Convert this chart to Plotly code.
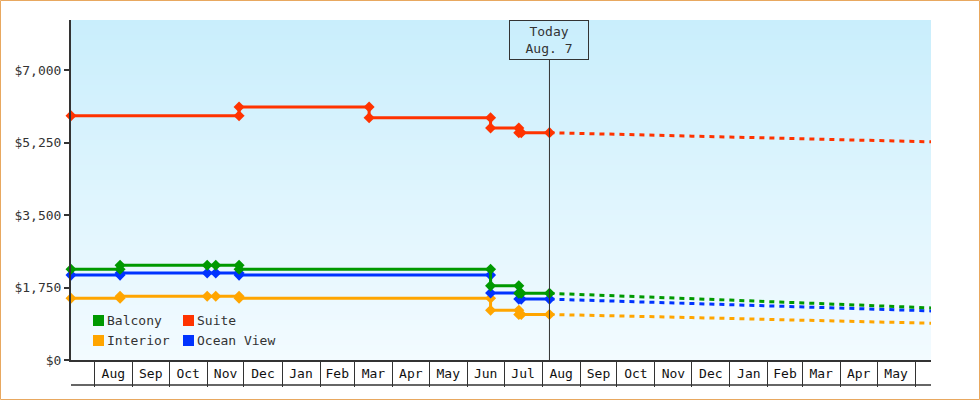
import pandas as pd
import plotly.graph_objects as go

# ---------------- data ----------------
series_names = ["Balcony", "Suite", "Interior", "Ocean View"]
series_colors = ["#009900", "#ff3300", "#ffa500", "#0033ff"]

balcony_dates = ["2024-07-13", "2024-08-22", "2024-11-01", "2024-11-08", "2024-11-27",
                 "2025-06-20", "2025-07-13", "2025-07-15", "2025-08-07"]
balcony_prices = [2190, 2290, 2290, 2290, 2190, 1790, 1610, 1610, 1610]

suite_dates = ["2024-07-13", "2024-11-27", "2025-03-13", "2025-06-20",
               "2025-07-13", "2025-07-15", "2025-08-07"]
suite_prices = [5900, 6110, 5850, 5600, 5490, 5490, 5490]

interior_dates = ["2024-07-13", "2024-08-22", "2024-11-01", "2024-11-08", "2024-11-27",
                  "2025-06-20", "2025-07-13", "2025-07-15", "2025-08-07"]
interior_prices = [1490, 1540, 1540, 1540, 1490, 1200, 1100, 1100, 1100]

ocean_dates = ["2024-07-13", "2024-08-22", "2024-11-01", "2024-11-08", "2024-11-27",
               "2025-06-20", "2025-07-13", "2025-07-15", "2025-08-07"]
ocean_prices = [2050, 2100, 2100, 2100, 2050, 1620, 1470, 1470, 1470]

forecast_dates = ["2025-08-07", "2025-09-01", "2025-10-01", "2025-11-01", "2025-12-01",
                  "2026-01-01", "2026-02-01", "2026-03-01", "2026-04-01", "2026-05-01",
                  "2026-06-01", "2026-06-14"]
balcony_forecast = [1610, 1585, 1551, 1515, 1481, 1447, 1411, 1379, 1343, 1309, 1273, 1258]
suite_forecast = [5490, 5468, 5446, 5424, 5405, 5384, 5362, 5343, 5321, 5300, 5278, 5268]
interior_forecast = [1100, 1089, 1067, 1045, 1024, 1002, 980, 961, 939, 917, 895, 888]
ocean_forecast = [1470, 1447, 1418, 1392, 1362, 1336, 1307, 1283, 1254, 1227, 1198, 1186]

today = "2025-08-07"
today_label = "Today<br>Aug. 7"
x_start = "2024-07-13"
x_end = "2026-06-14"
y_max = 8210
y_ticks = [0, 1750, 3500, 5250, 7000]
y_tick_text = ["$" + format(v, ",d") for v in y_ticks]

# ---------------- layout constants ----------------
W, H = 980, 400
ML, MR, MT, MB = 71, 49, 20, 40
PW, PH = W - ML - MR, H - MT - MB
FONT = "DejaVu Sans Mono"
AXIS = "#333333"


def step_points(dates, prices):
    xs, ys = [dates[0]], [prices[0]]
    for d, p in zip(dates[1:], prices[1:]):
        if p != ys[-1]:
            xs.append(d)
            ys.append(ys[-1])
        xs.append(d)
        ys.append(p)
    return xs, ys


history = {
    "Balcony": (balcony_dates, balcony_prices),
    "Suite": (suite_dates, suite_prices),
    "Interior": (interior_dates, interior_prices),
    "Ocean View": (ocean_dates, ocean_prices),
}
forecast = {
    "Balcony": balcony_forecast,
    "Suite": suite_forecast,
    "Interior": interior_forecast,
    "Ocean View": ocean_forecast,
}
color_of = dict(zip(series_names, series_colors))

fig = go.Figure()
draw_order = ["Interior", "Ocean View", "Balcony", "Suite"]
for name in draw_order:
    fig.add_trace(go.Scatter(
        x=forecast_dates, y=forecast[name], mode="lines",
        line=dict(color=color_of[name], width=3, dash="5px,5px"),
        showlegend=False, hoverinfo="skip"))
for name in draw_order:
    xs, ys = step_points(*history[name])
    fig.add_trace(go.Scatter(
        x=xs, y=ys, mode="lines+markers", name=name, cliponaxis=False,
        line=dict(color=color_of[name], width=3),
        marker=dict(symbol="diamond", size=8.5, color=color_of[name]),
        showlegend=False))

# month separators and centered month labels
month_starts = pd.date_range("2024-08-01", "2026-06-01", freq="MS")
month_mids = [m + (m + pd.offsets.MonthBegin(1) - m) / 2 for m in month_starts]
month_text = [m.strftime("%b") for m in month_starts]
label_pos = [mid for mid in month_mids if mid <= pd.Timestamp(x_end)]
label_txt = [t for mid, t in zip(month_mids, month_text) if mid <= pd.Timestamp(x_end)]

shapes = []
# gradient background
n_bands = 68
top_rgb = (0xC9, 0xEE, 0xFC)
bot_rgb = (0xF3, 0xFB, 0xFF)
for i in range(n_bands):
    t = (i + 0.5) / n_bands
    c = tuple(round(bot_rgb[k] + (top_rgb[k] - bot_rgb[k]) * t) for k in range(3))
    shapes.append(dict(type="rect", xref="paper", yref="paper",
                       x0=0, x1=1, y0=i / n_bands, y1=(i + 1) / n_bands,
                       fillcolor="rgb(%d,%d,%d)" % c, line=dict(width=0), layer="below"))
# bottom line of the month band
band = 25
shapes.append(dict(type="line", xref="paper", yref="paper", x0=0, x1=1,
                   y0=-band / PH, y1=-band / PH, line=dict(color=AXIS, width=1.5)))
# today line
box_h = 40
shapes.append(dict(type="line", xref="x", yref="paper", x0=today, x1=today,
                   y0=0, y1=1 - box_h / PH, line=dict(color=AXIS, width=1)))
# outer border
shapes.append(dict(type="rect", xref="paper", yref="paper",
                   x0=(0.5 - ML) / PW, x1=(W - 0.5 - ML) / PW,
                   y0=(PH + MT - (H - 0.5)) / PH, y1=(PH + MT - 0.5) / PH,
                   line=dict(color="#e8a860", width=1), fillcolor="rgba(0,0,0,0)"))

annotations = [dict(x=today, xref="x", y=1, yref="paper", yanchor="top", xanchor="center",
                    text=today_label, showarrow=False, width=78, height=38,
                    bordercolor=AXIS, borderwidth=1, borderpad=0,
                    font=dict(family=FONT, size=13, color=AXIS))]

# legend (two columns, row-major)
legend_cols_px = [93, 183]
legend_rows_px = [315, 335]
sq = 11
for idx, name in enumerate(series_names):
    col, row = idx % 2, idx // 2
    lx, ly = legend_cols_px[col], legend_rows_px[row]
    shapes.append(dict(type="rect", xref="paper", yref="paper",
                       x0=(lx - ML) / PW, x1=(lx + sq - ML) / PW,
                       y0=(PH + MT - (ly + sq)) / PH, y1=(PH + MT - ly) / PH,
                       fillcolor=color_of[name], line=dict(width=0)))
    annotations.append(dict(x=(lx + sq + 1 - ML) / PW, xref="paper",
                            y=(PH + MT - (ly + sq / 2)) / PH, yref="paper",
                            xanchor="left", yanchor="middle", showarrow=False,
                            text=name, font=dict(family=FONT, size=13, color=AXIS)))

fig.update_layout(
    width=W, height=H, autosize=False,
    margin=dict(l=ML, r=MR, t=MT, b=MB, pad=0),
    paper_bgcolor="white", plot_bgcolor="white",
    font=dict(family=FONT, size=13, color=AXIS),
    showlegend=False,
    shapes=shapes, annotations=annotations,
    xaxis=dict(type="date", range=[x_start, x_end], showgrid=False, zeroline=False,
               showline=True, linecolor=AXIS, linewidth=2,
               tickmode="array", tickvals=label_pos, ticktext=label_txt, ticks="",
               tickfont=dict(family=FONT, size=13, color="#111111"),
               minor=dict(ticks="outside", ticklen=band, tickcolor=AXIS, tickwidth=1,
                          tickmode="array", tickvals=list(month_starts), showgrid=False)),
    yaxis=dict(range=[0, y_max], showgrid=False, zeroline=False,
               showline=True, linecolor=AXIS, linewidth=2,
               tickmode="array", tickvals=y_ticks, ticktext=y_tick_text,
               ticks="outside", ticklen=5, tickwidth=2, tickcolor=AXIS,
               tickfont=dict(family=FONT, size=13, color=AXIS)),
)

fig.write_html("out.html", config={"displayModeBar": False},
               post_script="document.body.style.margin='0';document.body.style.overflow='hidden';")
